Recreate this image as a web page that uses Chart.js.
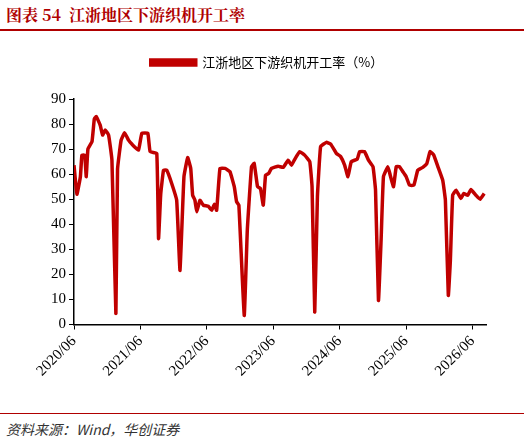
<!DOCTYPE html>
<html><head><meta charset="utf-8">
<script src="https://cdn.jsdelivr.net/npm/chart.js@4"></script>
<style>
body{margin:0;width:524px;height:445px;background:#fff;position:relative;overflow:hidden;font-family:"Noto Sans CJK SC";}
#t{position:absolute;left:6px;top:3px;font-size:16px;font-weight:bold;color:#b00000;font-family:"Noto Serif CJK SC","Noto Sans CJK SC";}
#l1{position:absolute;left:0;top:29px;width:524px;height:2px;background:#b00000;}
#l2{position:absolute;left:0;top:413px;width:524px;height:1px;background:#b00000;}
#f{position:absolute;left:6px;top:419px;font-size:14px;font-style:italic;color:#333;}
#w{position:absolute;left:0;top:40px;width:524px;height:343px;}
</style></head><body>
<div id="t">图表 54&nbsp;&nbsp;江浙地区下游织机开工率</div><div id="l1"></div>
<div id="w"><canvas id="c"></canvas></div>
<div id="l2"></div><div id="f">资料来源：Wind，华创证券</div>
<script>
const weeks=[0,2.3,5.0,6.2,8.4,9.6,10.9,14.1,15.9,17.4,20.5,22.4,24.4,27.1,29.7,32.8,34.1,36.9,39.6,42.7,45.3,50.5,53.1,57.8,59.6,64.8,66.2,67.9,70.1,72.6,76.5,80.4,83.0,86.1,89.0,91.4,92.9,94.7,96.1,98.6,101.3,105.2,107.8,109.9,111.7,114.3,118.2,122.1,125.5,127.3,129.1,133.3,135.7,139.0,141.1,143.7,146.0,148.2,150.0,152.5,154.6,159.9,163.8,167.7,170.3,172.8,176.7,180.6,184.6,186.4,188.5,190.6,193.1,197.6,201.0,205.4,208.8,211.9,214.5,217.1,221.8,223.6,227.5,230.6,234.1,236.1,238.4,240.5,242.3,245.8,247.6,250.2,252.3,254.8,257.5,260.1,262.7,266.1,269.2,273.1,276.3,278.8,281.7,284.8,288.7,290.8,293.1,294.7,296.5,299.1,303.0,305.1,308.3,310.8,314.7,317.9,321.2];
const rates=[63.6,52,59,67.6,67.6,59,70,73,82,83,79.6,75.6,77.6,75.6,65.6,4.4,62,73.6,76.5,73.6,72,69.6,76.3,76.3,69,68.3,34.3,52,61.6,61.6,56.3,49.6,21.6,59,66.6,62.3,51.6,49.6,45,49.6,47.6,47.2,45.6,48,45.6,62.3,62.3,61,55,49,47.6,3.6,37.6,63,64.3,55,54.3,47.6,59.6,60.3,62.3,63.2,62.7,65.6,63.6,65.9,69,67.6,65,55,5,51,71,72.7,72,68.3,67,63.6,59,65,66,69,69,65.6,63,53.6,9.6,34.3,59,63,59.6,55,63,63,61,59,55.6,55.6,61.6,62.7,64.3,69,67.6,63.2,57.6,49.6,11.6,25.6,51.6,53.6,50.3,52.3,51.6,53.9,51.6,50,52.3];
const tickWeeks=[0,52,104,156,208,260,312];
const tickLabels=['2020/06','2021/06','2022/06','2023/06','2024/06','2025/06','2026/06'];
const seriesName='江浙地区下游织机开工率（%）';
new Chart(document.getElementById('c'),{type:'line',
data:{datasets:[{label:seriesName,data:weeks.map((w,i)=>({x:w,y:rates[i]})),borderColor:'#c00000',backgroundColor:'#c00000',borderWidth:3.5,pointRadius:0,tension:0.1}]},
options:{responsive:true,maintainAspectRatio:false,animation:false,
layout:{padding:{left:48,right:38,top:6,bottom:0}},
plugins:{legend:{labels:{boxWidth:45,boxHeight:5,color:'#000',font:{size:13,family:'Noto Sans CJK SC'}}},tooltip:{enabled:false}},
scales:{
x:{type:'linear',min:0,max:322.6,afterBuildTicks:a=>{a.ticks=tickWeeks.map(v=>({value:v}));},
ticks:{maxRotation:45,minRotation:45,color:'#000',font:{size:15,family:'Liberation Serif'},callback:(v)=>tickLabels[tickWeeks.indexOf(v)]},
grid:{drawOnChartArea:false,color:'#000',tickLength:5},border:{color:'#000',width:1.5}},
y:{min:0,max:90,ticks:{stepSize:10,color:'#000',font:{size:15,family:'Liberation Serif'}},
grid:{drawOnChartArea:false,color:'#000',tickLength:5},border:{color:'#000',width:1.5}}
}},
plugins:[{id:'legendGap',beforeInit(ch){const o=ch.legend.fit;ch.legend.fit=function(){o.call(this);this.height+=20;};}}]
});
</script></body></html>
